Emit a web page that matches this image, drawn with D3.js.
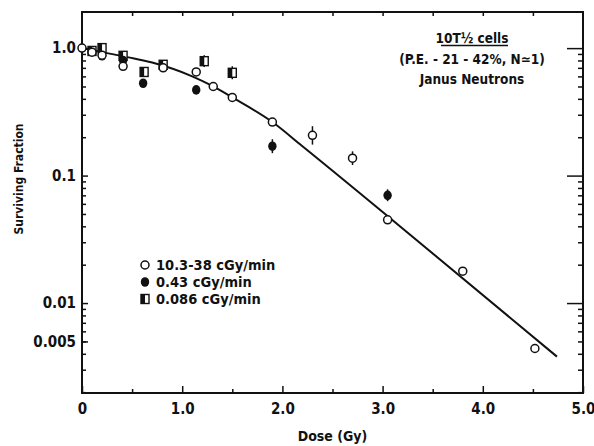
<!DOCTYPE html>
<html><head><meta charset="utf-8">
<script src="https://cdn.jsdelivr.net/npm/d3@7"></script>
<style>
body{margin:0;background:#fff;}
svg text{font-family:'Liberation Sans Narrow','DejaVu Sans Condensed','Arial Narrow',sans-serif;font-weight:bold;fill:#111;}
</style></head><body>
<svg id="c" width="594" height="446"></svg>
<script>
// ---- data ----
const openDose = [0, 0.1, 0.2, 0.41, 0.81, 1.14, 1.31, 1.5, 1.9, 2.3, 2.7, 3.05, 3.8, 4.52];
const openSF   = [1.0, 0.93, 0.88, 0.72, 0.70, 0.65, 0.50, 0.41, 0.263, 0.207, 0.137, 0.045, 0.0178, 0.0044];
const filledDose = [0.2, 0.41, 0.61, 1.14, 1.9, 3.05];
const filledSF   = [0.87, 0.80, 0.53, 0.47, 0.17, 0.070];
const squareDose = [0.1, 0.2, 0.41, 0.62, 0.81, 1.22, 1.5];
const squareSF   = [0.95, 1.0, 0.87, 0.65, 0.74, 0.79, 0.64];
const errDose = [2.3, 2.7, 1.9, 3.05, 1.22, 1.5];
const errLow  = [0.175, 0.121, 0.15, 0.063, 0.71, 0.57];
const errHigh = [0.244, 0.155, 0.193, 0.078, 0.88, 0.72];
const fitDose = [0, 0.45, 0.7, 1.1, 1.31, 1.5, 1.9, 2.2, 3.1, 4.74];
const fitSF   = [1.0, 0.85, 0.77, 0.60, 0.50, 0.41, 0.263, 0.17, 0.0447, 0.0038];
const xTicks = [0, 1, 2, 3, 4, 5];
const xTickLabels = ["0", "1.0", "2.0", "3.0", "4.0", "5.0"];
const xMinor = [0.5, 1.5, 2.5, 3.5, 4.5];
const yTicks = [1, 0.1, 0.01, 0.005];
const yTickLabels = ["1.0", "0.1", "0.01", "0.005"];
const legendLabels = ["10.3-38 cGy/min", "0.43 cGy/min", "0.086 cGy/min"];
const noteLines = ["10T½ cells", "(P.E. - 21 - 42%, N≃1)", "Janus Neutrons"];

// ---- chart ----
const svg = d3.select("#c");
const L = 82, R = 583, T = 12, B = 393;
const x = d3.scaleLinear().domain([0, 5]).range([L, R]);
const y = d3.scaleLog().domain([0.00197, 1.92]).range([B, T]);

const yMinor = [];
[0.001, 0.01, 0.1, 1].forEach(dec => { for (let k = 2; k <= 9; k++) { const v = dec * k; if (v >= 0.00197 && v <= 1.92) yMinor.push(v); } });

function styleAxis(g) { g.select(".domain").remove(); g.selectAll("line").attr("stroke", "#111").attr("stroke-width", 1.5); }

// bottom
svg.append("g").attr("transform", `translate(0,${B})`)
  .call(d3.axisBottom(x).tickValues(xTicks).tickSizeInner(-7).tickSizeOuter(0).tickPadding(10)
  .tickFormat((d, i) => xTickLabels[i])).call(styleAxis)
  .selectAll("text").attr("font-size", 15);
svg.append("g").attr("transform", `translate(0,${B})`)
  .call(d3.axisBottom(x).tickValues(xMinor).tickSize(-4).tickFormat("")).call(styleAxis);
// top
svg.append("g").attr("transform", `translate(0,${T})`)
  .call(d3.axisTop(x).tickValues(xMinor.concat(xTicks.slice(1, 5))).tickSize(-4).tickFormat("")).call(styleAxis);
// left
svg.append("g").attr("transform", `translate(${L},0)`)
  .call(d3.axisLeft(y).tickValues(yTicks).tickSize(-6).tickPadding(6)
  .tickFormat((d, i) => yTickLabels[i])).call(styleAxis)
  .selectAll("text").attr("font-size", 15);
svg.append("g").attr("transform", `translate(${L},0)`)
  .call(d3.axisLeft(y).tickValues(yMinor).tickSize(-4).tickFormat("")).call(styleAxis);
// right
svg.append("g").attr("transform", `translate(${R},0)`)
  .call(d3.axisRight(y).tickValues([1, 0.1, 0.01]).tickSize(-16).tickFormat("")).call(styleAxis);
svg.append("g").attr("transform", `translate(${R},0)`)
  .call(d3.axisRight(y).tickValues(yMinor).tickSize(-5).tickFormat("")).call(styleAxis);

// frame
svg.append("rect").attr("x", L).attr("y", T).attr("width", R - L).attr("height", B - T)
  .attr("fill", "none").attr("stroke", "#111").attr("stroke-width", 2);

// fit curve
const line = d3.line().x(d => x(d[0])).y(d => y(d[1])).curve(d3.curveMonotoneX);
svg.append("path").datum(fitDose.map((d, i) => [d, fitSF[i]]))
  .attr("d", line).attr("fill", "none").attr("stroke", "#111").attr("stroke-width", 2);

// error bars
svg.append("g").selectAll("line").data(errDose).join("line")
  .attr("x1", d => x(d)).attr("x2", d => x(d))
  .attr("y1", (d, i) => y(errLow[i])).attr("y2", (d, i) => y(errHigh[i]))
  .attr("stroke", "#111").attr("stroke-width", 1.5);

// symbols
function drawSquare(g, cx, cy) {
  g.append("rect").attr("x", cx - 4).attr("y", cy - 4.5).attr("width", 8).attr("height", 9)
    .attr("fill", "#fff").attr("stroke", "#111").attr("stroke-width", 1.4);
  g.append("rect").attr("x", cx - 4).attr("y", cy - 4.5).attr("width", 4).attr("height", 9).attr("fill", "#111");
}
function drawOpen(g, cx, cy) {
  g.append("circle").attr("cx", cx).attr("cy", cy).attr("r", 4)
    .attr("fill", "#fff").attr("stroke", "#111").attr("stroke-width", 1.5);
}
function drawFilled(g, cx, cy) {
  g.append("ellipse").attr("cx", cx).attr("cy", cy).attr("rx", 4.2).attr("ry", 4.8).attr("fill", "#111");
}
const gs = svg.append("g");
squareDose.forEach((d, i) => drawSquare(gs, x(d), y(squareSF[i])));
filledDose.forEach((d, i) => drawFilled(gs, x(d), y(filledSF[i])));
openDose.forEach((d, i) => drawOpen(gs, x(d), y(openSF[i])));

// legend
const lg = svg.append("g");
const drawers = [drawOpen, drawFilled, drawSquare];
legendLabels.forEach((t, i) => {
  const yy = 265 + i * 17;
  drawers[i](lg, 145, yy);
  lg.append("text").attr("x", 156).attr("y", yy + 5).attr("font-size", 14.5).text(t);
});

// note
const ng = svg.append("g");
noteLines.forEach((t, i) => {
  ng.append("text").attr("x", 472).attr("y", 43 + i * 20.5).attr("text-anchor", "middle").attr("font-size", 13.5).text(t);
});
ng.append("line").attr("x1", 441).attr("x2", 508).attr("y1", 45.5).attr("y2", 45.5).attr("stroke", "#111").attr("stroke-width", 1.5);

// axis titles
svg.append("text").attr("x", (L + R) / 2).attr("y", 441).attr("text-anchor", "middle").attr("font-size", 14).text("Dose (Gy)");
svg.append("text").attr("transform", "translate(23,179) rotate(-90)").attr("text-anchor", "middle").attr("font-size", 12).text("Surviving Fraction");
</script>
</body></html>
